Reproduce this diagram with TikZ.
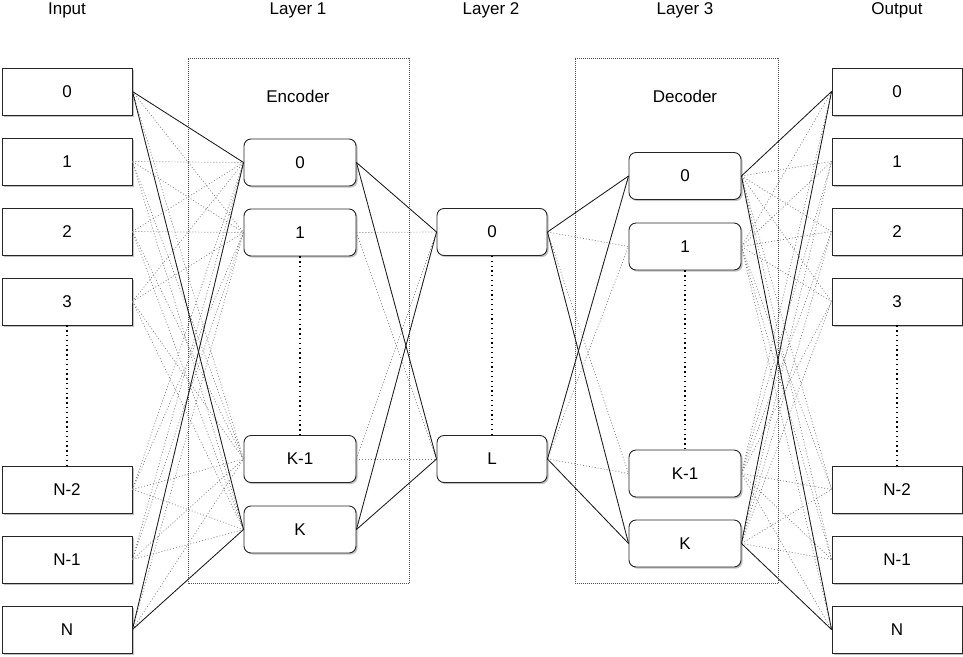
\documentclass[tikz,border=0pt]{standalone}
\usepackage{fontspec}
\setmainfont{Liberation Sans}
\usetikzlibrary{shadows}
\begin{document}
\begin{tikzpicture}[x=1pt,y=-1pt,
  font=\fontsize{17}{20}\selectfont,
  shade/.style={drop shadow={shadow xshift=1.6pt,shadow yshift=-1.6pt,fill=black!30,opacity=0.8}},
  iobox/.style={draw=black!85,line width=0.9pt,fill=white,minimum width=130pt,minimum height=47pt,inner sep=0pt,shade},
  unit/.style={draw=black!85,line width=0.9pt,fill=white,rounded corners=7pt,minimum width=112pt,minimum height=47pt,inner sep=0pt,shade},
  link/.style={draw=black!90,line width=0.8pt},
  faint/.style={draw=black!50,line width=0.7pt,dash pattern=on 1pt off 2pt},
  frame/.style={draw=black!70,line width=0.5pt,dash pattern=on 0.8pt off 1.2pt},
  gap/.style={draw=black,line width=1.3pt,dash pattern=on 1.3pt off 3.5pt},
  title/.style={inner sep=0pt}]
\useasboundingbox (0,0) rectangle (963,656);

% section headings
\node[title] (tin) at (67,10) {Input};
\node[title] (t1) at (298,10) {Layer 1};
\node[title] (t2) at (491,10) {Layer 2};
\node[title] (t3) at (685,10) {Layer 3};
\node[title] (tout) at (897,10) {Output};

% encoder / decoder frames
\draw[frame] (188,58.5) rectangle (409,583);
\draw[frame] (575,58.5) rectangle (778,583);
\node[title] (enc) at (298,96) {Encoder};
\node[title] (dec) at (685,96) {Decoder};

% input column
\foreach \n/\y/\t in {1/91.5/0,2/161.5/1,3/231.5/2,4/301.5/3,5/489.5/N-2,6/559.5/N-1,7/629.5/N}
  \node[iobox] (i\n) at (67,\y) {\t};
% output column
\foreach \n/\y/\t in {1/91.5/0,2/161.5/1,3/231.5/2,4/301.5/3,5/489.5/N-2,6/559.5/N-1,7/629.5/N}
  \node[iobox] (o\n) at (897,\y) {\t};
% layer 1
\foreach \n/\y/\t in {1/162.5/0,2/232.5/1,3/459/K-1,4/529.5/K}
  \node[unit] (a\n) at (300,\y) {\t};
% layer 2
\foreach \n/\y/\t in {1/232/0,2/459/L}
  \node[unit,minimum width=110pt] (b\n) at (492,\y) {\t};
% layer 3
\foreach \n/\y/\t in {1/176/0,2/246.5/1,3/473.5/K-1,4/543.5/K}
  \node[unit] (c\n) at (685,\y) {\t};

% all-to-all connections (faint)
\foreach \i in {1,...,7}
  \foreach \j in {1,...,4} {
    \draw[faint] (i\i.east) -- (a\j.west);
    \draw[faint] (c\j.east) -- (o\i.west);
  }
\foreach \i in {1,...,4}
  \foreach \j in {1,2} {
    \draw[faint] (a\i.east) -- (b\j.west);
    \draw[faint] (b\j.east) -- (c\i.west);
  }

% outermost connections (solid)
\foreach \i in {1,7}
  \foreach \j in {1,4} {
    \draw[link] (i\i.east) -- (a\j.west);
    \draw[link] (c\j.east) -- (o\i.west);
  }
\foreach \i in {1,4}
  \foreach \j in {1,2} {
    \draw[link] (a\i.east) -- (b\j.west);
    \draw[link] (b\j.east) -- (c\i.west);
  }

% elided units
\draw[gap] (i4.south) -- (i5.north);
\draw[gap] (o4.south) -- (o5.north);
\draw[gap] (a2.south) -- (a3.north);
\draw[gap] (b1.south) -- (b2.north);
\draw[gap] (c2.south) -- (c3.north);
\end{tikzpicture}
\end{document}
